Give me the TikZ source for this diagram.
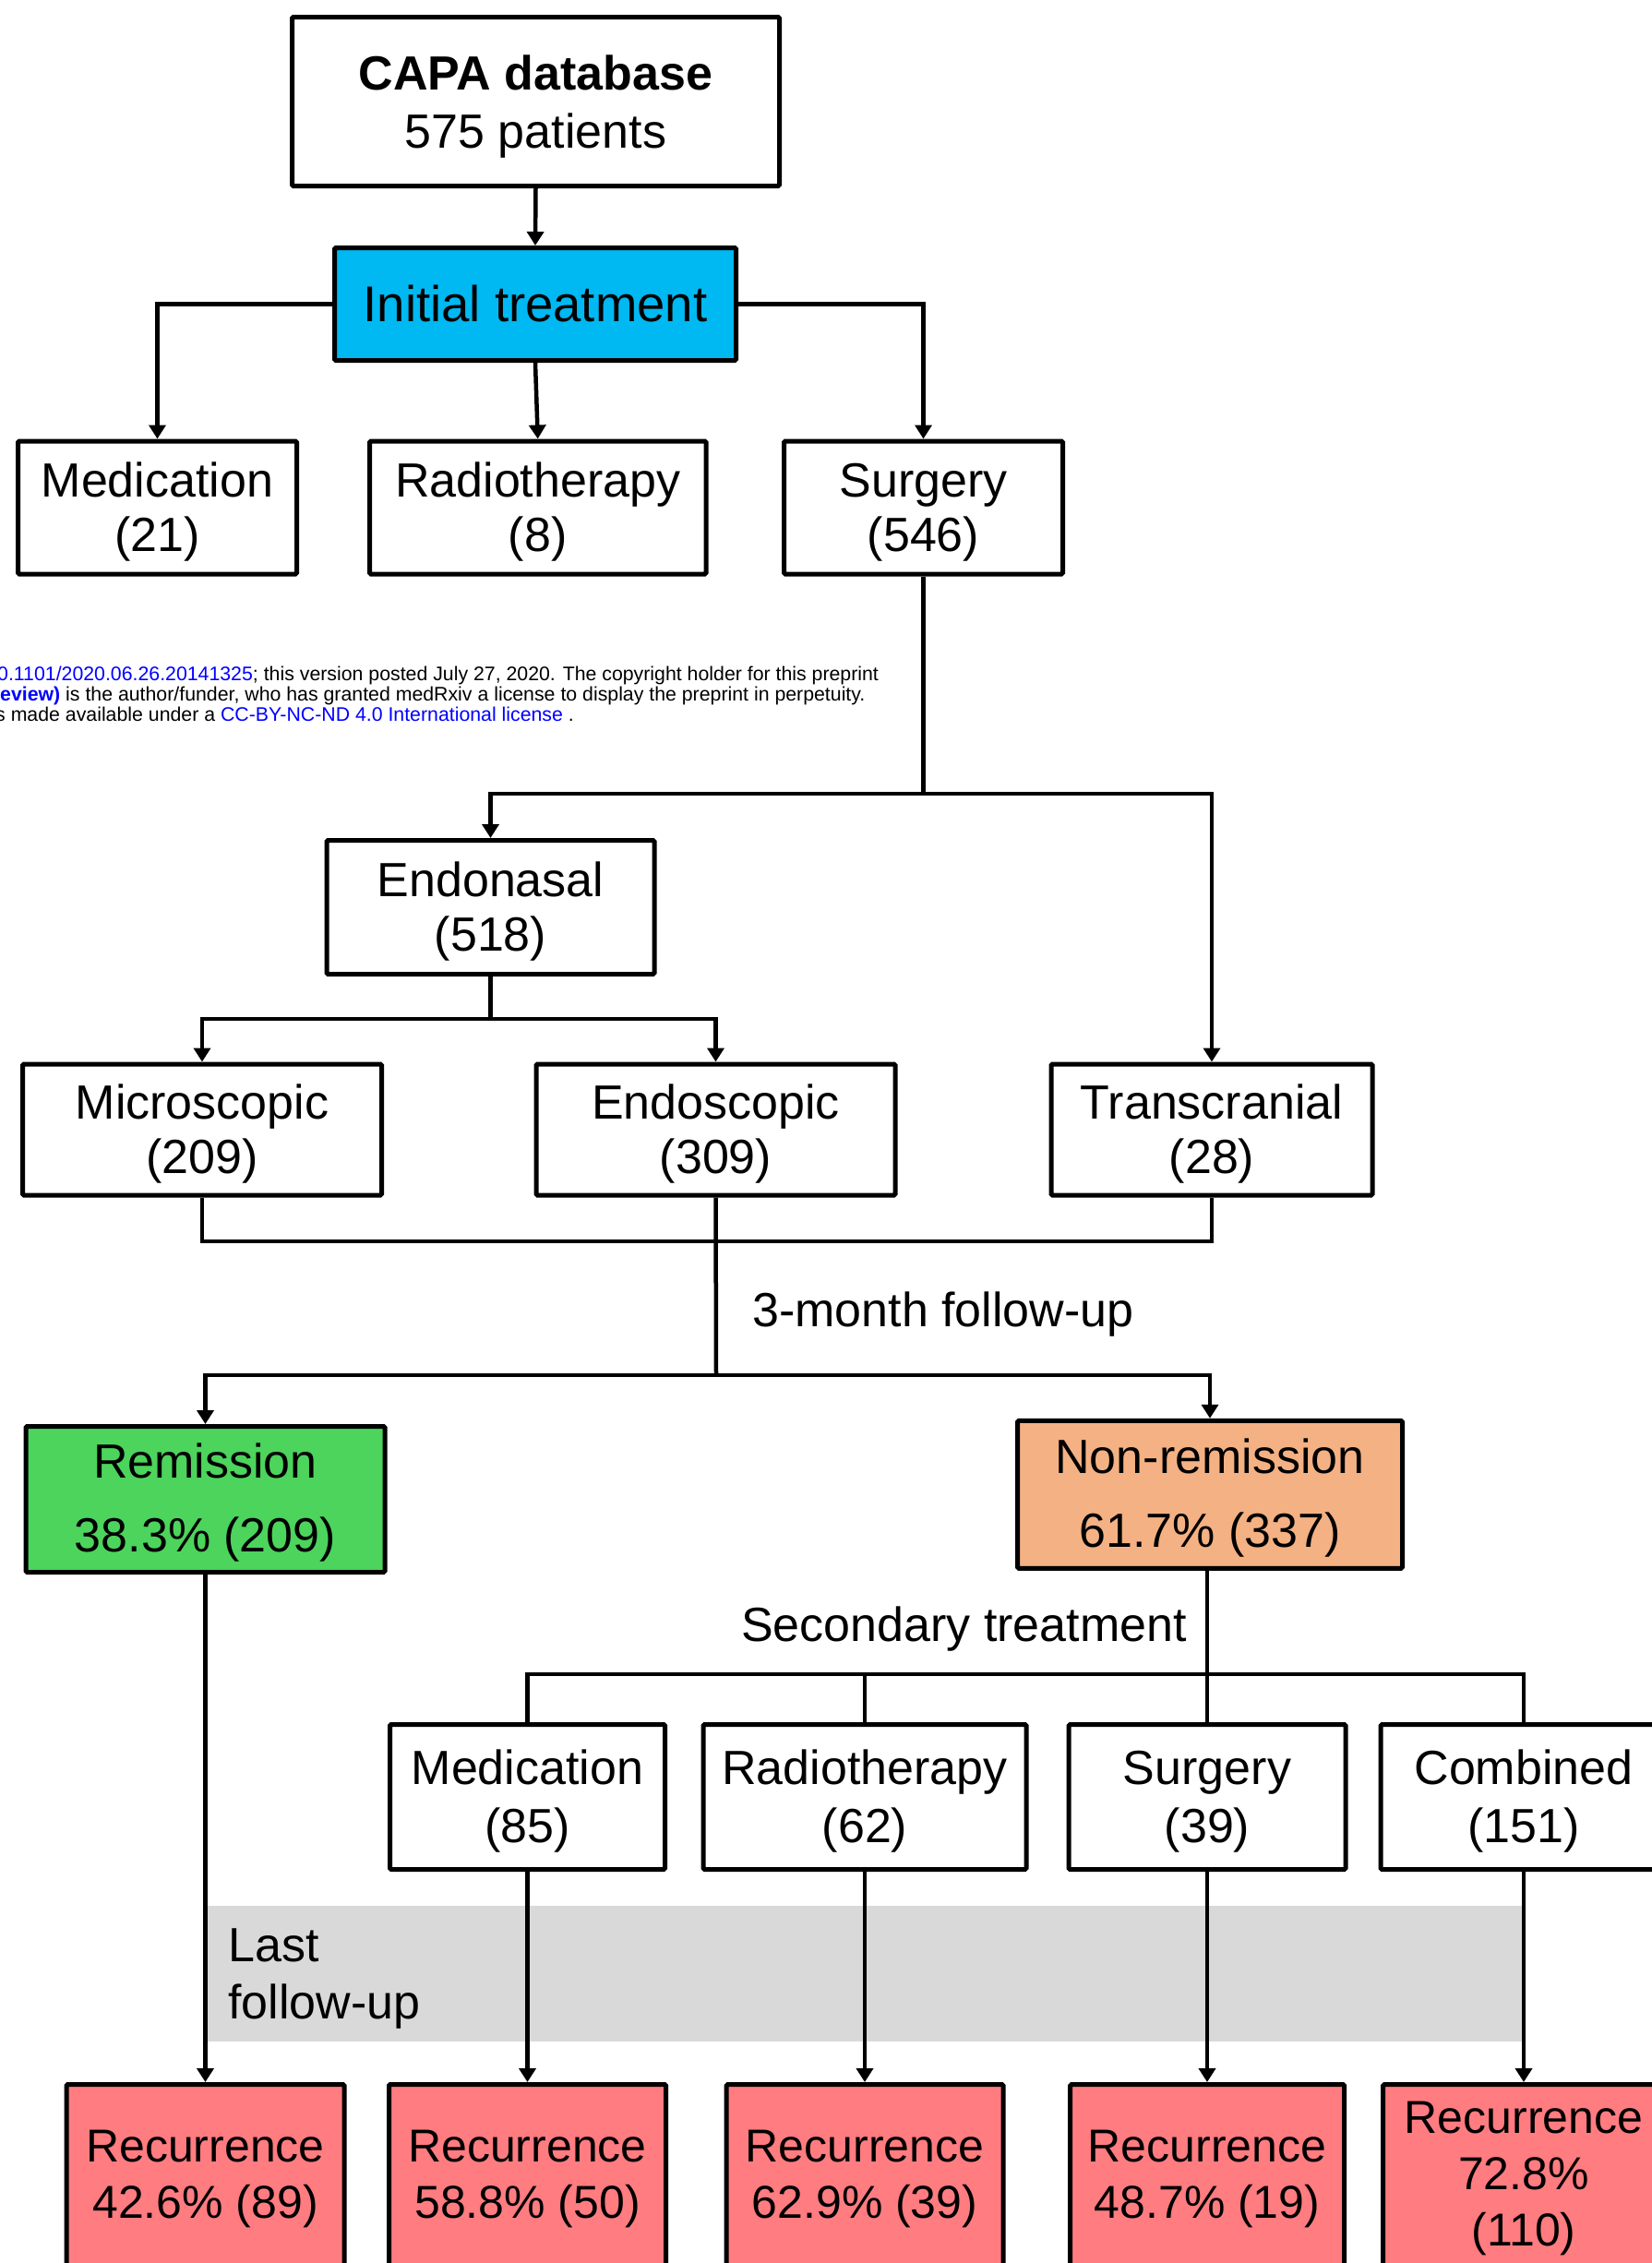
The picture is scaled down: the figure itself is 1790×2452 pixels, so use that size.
\documentclass[tikz,border=0pt]{standalone}
\usepackage{fontspec}
\setmainfont{Liberation Sans}
\usetikzlibrary{arrows.meta}
\definecolor{initblue}{HTML}{00B8F2}
\definecolor{remgreen}{HTML}{4CD45C}
\definecolor{nonremorange}{HTML}{F4B183}
\definecolor{recsalmon}{HTML}{FF7C80}
\definecolor{bandgray}{HTML}{D9D9D9}
\definecolor{linkblue}{HTML}{0000FF}
\begin{document}
\begin{tikzpicture}[x=1pt,y=-1pt,
  box/.style={draw, line width=5pt, inner sep=0pt, align=center, rounded corners=1.5pt, font=\fontsize{52pt}{59pt}\selectfont},
  boxb/.style={box, font=\fontsize{52pt}{63pt}\selectfont},
  outbox/.style={box, font=\fontsize{52pt}{80pt}\selectfont},
  recbox/.style={box, fill=recsalmon, font=\fontsize{50pt}{61pt}\selectfont},
  conn/.style={line width=4.5pt},
  arr/.style={conn, -{Triangle[width=18pt,length=15pt]}},
  lbl/.style={inner sep=0pt, font=\fontsize{52pt}{62pt}\selectfont},
  wm/.style={inner sep=0pt, anchor=base west, font=\fontsize{21.3pt}{22pt}\selectfont}
]
\useasboundingbox (0,0) rectangle (1790,2452);
\clip (0,0) rectangle (1790,2452);
\fill[white] (0,0) rectangle (1790,2452);

% background band
\node[fill=bandgray, minimum width=1426pt, minimum height=147pt, inner sep=0pt] (band) at (938,2138.5) {};
\node[lbl, anchor=base west] (last1) at (247,2125) {Last};
\node[lbl, anchor=base west] (last2) at (247,2187) {follow-up};

% watermark
\node[wm] (wm1) at (-3,737) {\textcolor{linkblue}{0.1101/2020.06.26.20141325}; this version posted July 27, 2020. The copyright holder for this preprint};
\node[wm] (wm2) at (0,759) {\textcolor{linkblue}{\textbf{eview)}} is the author/funder, who has granted medRxiv a license to display the preprint in perpetuity.};
\node[wm] (wm3) at (-5,781) {s made available under a \textcolor{linkblue}{CC-BY-NC-ND 4.0 International license} .};

% top
\node[boxb, minimum width=528pt, minimum height=183pt] (capa) at (580.5,110) {\rule{0pt}{48pt}\textbf{CAPA database}\\575 patients};
\node[box, fill=initblue, minimum width=435pt, minimum height=122pt, font=\fontsize{54.5pt}{60pt}\selectfont] (init) at (580,329.5) {Initial treatment};

\node[box, minimum width=302pt, minimum height=144pt] (med1) at (170.5,550) {\rule{0pt}{47pt}Medication\\(21)};
\node[box, minimum width=364.5pt, minimum height=144pt] (rad1) at (582.75,550) {\rule{0pt}{47pt}Radiotherapy\\(8)};
\node[box, minimum width=302pt, minimum height=144pt] (surg1) at (1000.5,550) {\rule{0pt}{47pt}Surgery\\(546)};

\node[box, minimum width=355pt, minimum height=145pt] (endo) at (531.5,983) {\rule{0pt}{47pt}Endonasal\\(518)};
\node[box, minimum width=389pt, minimum height=142pt] (micro) at (219,1224) {\rule{0pt}{47pt}Microscopic\\(209)};
\node[box, minimum width=389pt, minimum height=142pt] (endosc) at (775.5,1224) {\rule{0pt}{47pt}Endoscopic\\(309)};
\node[box, minimum width=348pt, minimum height=142pt] (trans) at (1313,1224) {\rule{0pt}{47pt}Transcranial\\(28)};

\node[lbl, anchor=base west] (fu3) at (815,1437) {3-month follow-up};

\node[outbox, fill=remgreen, minimum width=389pt, minimum height=158pt] (rem) at (222.5,1624.5) {\rule{0pt}{45pt}Remission\\38.3\% (209)};
\node[outbox, fill=nonremorange, minimum width=417pt, minimum height=160pt] (nonrem) at (1311,1619.3) {\rule{0pt}{45pt}Non-remission\\61.7\% (337)};

\node[lbl, anchor=base east] (sec) at (1286,1778) {Secondary treatment};

\node[boxb, minimum width=298pt, minimum height=157pt] (med2) at (571.5,1947) {\rule{0pt}{47pt}Medication\\(85)};
\node[boxb, minimum width=350pt, minimum height=157pt] (rad2) at (937,1947) {\rule{0pt}{47pt}Radiotherapy\\(62)};
\node[boxb, minimum width=300pt, minimum height=157pt] (surg2) at (1308,1947) {\rule{0pt}{47pt}Surgery\\(39)};
\node[boxb, minimum width=310pt, minimum height=157pt] (comb) at (1651,1947) {\rule{0pt}{47pt}Combined\\(151)};

\node[recbox, minimum width=301pt, minimum height=204pt] (r1) at (222.5,2360.5) {Recurrence\\42.6\% (89)};
\node[recbox, minimum width=300pt, minimum height=204pt] (r2) at (571.5,2360.5) {Recurrence\\58.8\% (50)};
\node[recbox, minimum width=300pt, minimum height=204pt] (r3) at (937,2360.5) {Recurrence\\62.9\% (39)};
\node[recbox, minimum width=297pt, minimum height=204pt] (r4) at (1308,2360.5) {Recurrence\\48.7\% (19)};
\node[recbox, minimum width=305pt, minimum height=204pt] (r5) at (1651,2360.5) {Recurrence\\72.8\%\\(110)};

% junction coordinates
\coordinate (j1) at (1000.5,860);
\coordinate (j2) at (531.5,1104);
\coordinate (j3) at (776,1345);
\coordinate (j4) at (776,1490);
\coordinate (j5) at (1308,1814);

% connectors
\draw[arr] (capa.south) -- (init.north);
\draw[arr] (init.west) -| (med1.north);
\draw[arr] (init.south) -- (rad1.north);
\draw[arr] (init.east) -| (surg1.north);

\draw[conn] (surg1.south) -- (j1);
\draw[arr] (j1) -| (endo.north);
\draw[arr] (j1) -| (trans.north);

\draw[conn] (endo.south) -- (j2);
\draw[arr] (j2) -| (micro.north);
\draw[arr] (j2) -| (endosc.north);

\draw[conn] (micro.south) -- (micro.south |- j3) -- (trans.south |- j3) -- (trans.south);
\draw[conn] (endosc.south) -- (j4);
\draw[arr] (j4) -| (rem.north);
\draw[arr] (j4) -| (nonrem.north);

\draw[conn] (surg2.north |- nonrem.south) -- (surg2.north);
\draw[conn] (med2.north) |- (comb.north |- j5) -- (comb.north);
\draw[conn] (rad2.north) -- (rad2.north |- j5);

\draw[arr] (rem.south) -- (r1.north);
\draw[arr] (med2.south) -- (r2.north);
\draw[arr] (rad2.south) -- (r3.north);
\draw[arr] (surg2.south) -- (r4.north);
\draw[arr] (comb.south) -- (r5.north);
\end{tikzpicture}
\end{document}
